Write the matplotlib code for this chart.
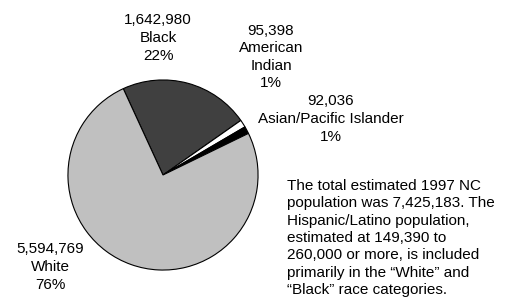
import matplotlib
matplotlib.use("Agg")
import matplotlib.pyplot as plt

plt.rcParams.update({
    "font.family": ["Liberation Sans", "DejaVu Sans"],
    "font.size": 11,
})

# ── data ──────────────────────────────────────────────────────────────────────
races   = ["Black", "American\nIndian", "Asian/Pacific Islander", "White"]
counts  = [1642980, 95398, 92036, 5594769]
percent = [22, 1, 1, 76]
colors  = ["#404040", "#ffffff", "#000000", "#c0c0c0"]

note = ("The total estimated 1997 NC\n"
        "population was 7,425,183. The\n"
        "Hispanic/Latino population,\n"
        "estimated at 149,390 to\n"
        "260,000 or more, is included\n"
        "primarily in the \u201cWhite\u201d and\n"
        "\u201cBlack\u201d race categories.")

W, H = 505, 301
fig = plt.figure(figsize=(W / 100, H / 100), dpi=100)

# pie centre (163, 175) px, radius 96 px
cx, cy, r = 163, 175, 96
ax = fig.add_axes([(cx - r) / W, (H - cy - r) / H, 2 * r / W, 2 * r / H])
ax.pie(counts, colors=colors, startangle=114.7, counterclock=False,
       radius=1, wedgeprops=dict(edgecolor="black", linewidth=0.8))
ax.set_xlim(-1.01, 1.01)
ax.set_ylim(-1.01, 1.01)
ax.axis("off")

# label positions in pixels (centre of text block)
label_pos = [(158, 38), (271, 57), (331, 119), (50, 267)]
for (x, y), name, n, p in zip(label_pos, races, counts, percent):
    fig.text(x / W, 1 - y / H, f"{n:,}\n{name}\n{p}%",
             ha="center", va="center", ma="center", linespacing=1.32)

fig.text(287 / W, 1 - 238 / H, note, ha="left", va="center",
         linespacing=1.3)

fig.savefig("out.png", dpi=100)
